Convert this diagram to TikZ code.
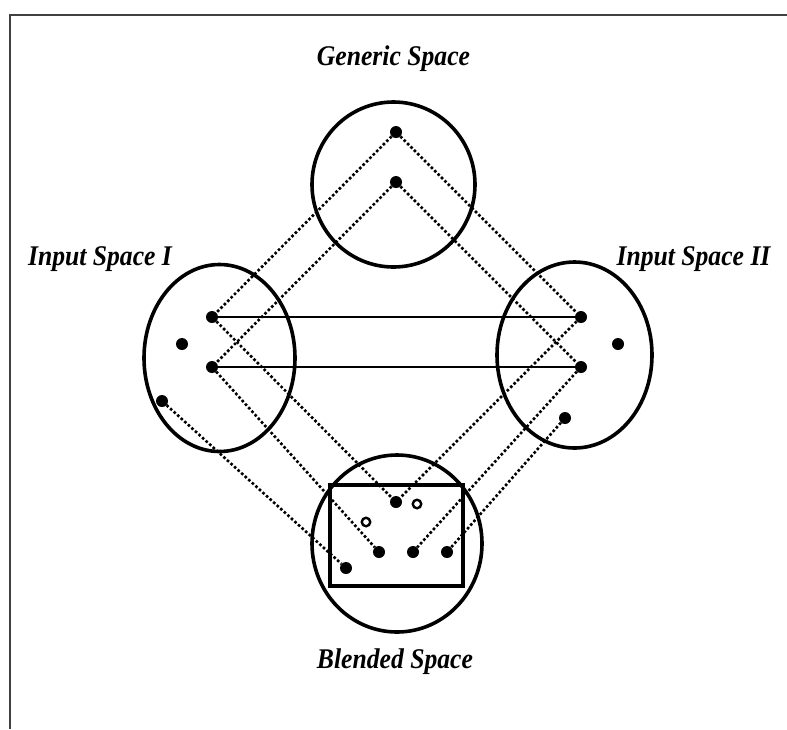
\documentclass[tikz,border=0pt]{standalone}
\usepackage{fontspec}
\setmainfont{Liberation Serif}
\newfontfamily\spacefont[FakeStretch=0.9]{Liberation Serif}
\usetikzlibrary{shapes.geometric}
\tikzset{
	space/.style={ellipse,draw,line width=3.6pt,inner sep=0pt},
	spacename/.style={anchor=base,inner sep=0pt,font=\spacefont\fontsize{28.5}{32}\selectfont\bfseries\itshape},
	pt/.style={circle,fill,inner sep=0pt,minimum size=12pt},
	hole/.style={circle,draw,fill=white,line width=2.4pt,inner sep=0pt,minimum size=8.5pt},
	link/.style={line width=2.6pt,dash pattern=on 2.6pt off 2.2pt},
	match/.style={line width=1.5pt}
}
\begin{document}
\begin{tikzpicture}[x=1pt,y=-1pt]
			\useasboundingbox (0,0) rectangle (787,729);
			\draw[line width=1.8pt,black!75] (10,729) -- (10,15) -- (787,15);

			\node[space,minimum width=163pt,minimum height=165pt] (generic) at (393.5,184.5) {};
			\node[space,minimum width=151pt,minimum height=187pt] (inputI) at (219.5,358) {};
			\node[space,minimum width=155pt,minimum height=186pt] (inputII) at (574.5,355) {};
			\node[space,minimum width=170pt,minimum height=177pt] (blended) at (397,543.5) {};
			\node[draw,line width=3.6pt,inner sep=0pt,minimum width=133pt,minimum height=101pt] (frame) at (396.5,535.5) {};

			\node[spacename] (genericname) at (393.5,65) {Generic Space};
			\node[spacename] (inputIname) at (100,265) {Input Space I};
			\node[spacename] (inputIIname) at (693.5,265) {Input Space II};
			\node[spacename] (blendedname) at (395,668) {Blended Space};

			\node[pt] (g1) at (396,132) {};
			\node[pt] (g2) at (396,182) {};

			\node[pt] (a1) at (212,317) {};
			\node[pt] (a2) at (182,344) {};
			\node[pt] (a3) at (212,367) {};
			\node[pt] (a4) at (162,401) {};

			\node[pt] (b1) at (581,317) {};
			\node[pt] (b2) at (618,344) {};
			\node[pt] (b3) at (581,367) {};
			\node[pt] (b4) at (565,418) {};

			\node[pt] (m1) at (396,502) {};
			\node[hole] (m2) at (417,504) {};
			\node[hole] (m3) at (366,522) {};
			\node[pt] (m4) at (379,552) {};
			\node[pt] (m5) at (413,552) {};
			\node[pt] (m6) at (447,552) {};
			\node[pt] (m7) at (346,568) {};

			\draw[match] (a1) -- (b1);
			\draw[match] (a3) -- (b3);

			\draw[link] (g1) -- (a1);
			\draw[link] (g1) -- (b1);
			\draw[link] (g2) -- (a3);
			\draw[link] (g2) -- (b3);
			\draw[link] (a1) -- (m1);
			\draw[link] (b1) -- (m1);
			\draw[link] (a3) -- (m4);
			\draw[link] (b3) -- (m5);
			\draw[link] (a4) -- (m7);
			\draw[link] (b4) -- (m6);
\end{tikzpicture}
\end{document}
